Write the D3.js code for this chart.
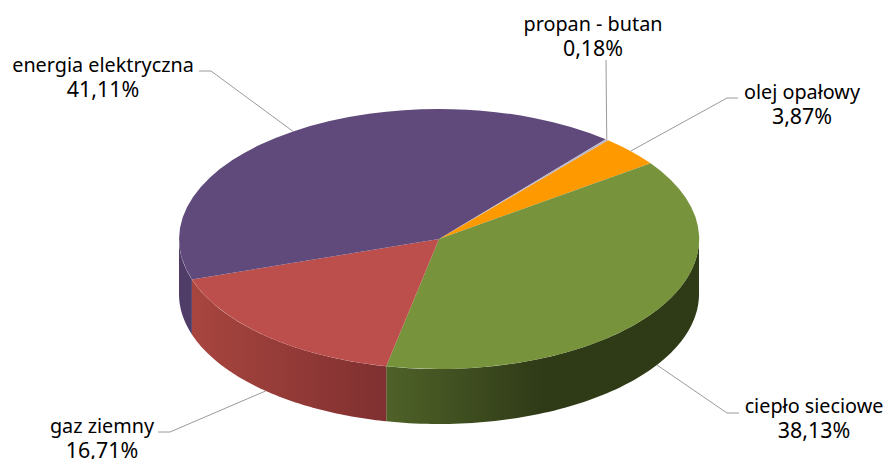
<!DOCTYPE html>
<html>
<head>
<meta charset="utf-8">
<script src="https://cdn.jsdelivr.net/npm/d3@7"></script>
<style>
  html, body { margin: 0; padding: 0; background: #fff; }
  svg { display: block; }
  text { font-family: "Noto Sans", sans-serif; font-size: 19.8px; fill: #000; }
  .share { font-size: 21.4px; }
</style>
</head>
<body>
<script>
//////////////// Data ////////////////////
var categories = ["olej opałowy", "ciepło sieciowe", "gaz ziemny", "energia elektryczna", "propan - butan"];
var shares = [3.87, 38.13, 16.71, 41.11, 0.18];
var shareLabels = ["3,87%", "38,13%", "16,71%", "41,11%", "0,18%"];

//////////////// Styles ////////////////////
var topColors = ["#ff9900", "#77933c", "#bc4e4b", "#604a7b", "#b9b4c6"];
var sideStops = [
  ["#cc7a00", "#b36b00"],
  ["#4f6228", "#2f3a17"],
  ["#a8453f", "#7f3030"],
  ["#4f3d68", "#4f3d68"],
  ["#8f8a9c", "#8f8a9c"]
];
// label centre + first baseline, then elbow and end of the leader line
var labelLayout = [
  {x: 802, y: 99, ex: 727, ey: 98, tx: 738, ty: 98},
  {x: 814, y: 413, ex: 727, ey: 413, tx: 739, ty: 413},
  {x: 102, y: 433, ex: 170, ey: 432, tx: 158, ty: 432},
  {x: 103, y: 72, ex: 211, ey: 71, tx: 199, ty: 71},
  {x: 593, y: 31, ex: 606, ey: 60, tx: 606, ty: 60}
];

//////////////// SVG ////////////////////
var width = 887, height = 459, depth = 55;
var svg = d3.select("body").append("svg")
  .attr("width", width)
  .attr("height", height);

//////////////// Scales ///////////////
var x = d3.scaleLinear().domain([-1, 1]).range([179, 699]);
var y = d3.scaleLinear().domain([-1, 1]).range([369, 109]);

var pie = d3.pie().sort(null).value(function(d) { return d; })
  .startAngle(0.707).endAngle(0.707 + 2 * Math.PI);
var slices = pie(shares);

function px(a) { return x(Math.sin(a)); }
function py(a) { return y(Math.cos(a)); }

//////////////// Gradients ///////////////
var defs = svg.append("defs");
slices.forEach(function(d, i) {
  var lo = Math.max(d.startAngle, Math.PI / 2), hi = Math.min(d.endAngle, 3 * Math.PI / 2);
  if (hi <= lo) return;
  var x0 = Math.min(px(lo), px(hi)), x1 = Math.max(px(lo), px(hi));
  if (i === 1) x1 = x0 + (x1 - x0) * 0.5;
  defs.append("linearGradient")
    .attr("id", "side" + i)
    .attr("gradientUnits", "userSpaceOnUse")
    .attr("x1", x0).attr("x2", x1)
    .attr("y1", 0).attr("y2", 0)
    .selectAll("stop")
    .data(sideStops[i])
    .enter().append("stop")
    .attr("offset", function(c, k) { return k; })
    .attr("stop-color", function(c) { return c; });
});

//////////////// Side wall ///////////////
var wall = d3.line().x(function(p) { return p[0]; }).y(function(p) { return p[1]; });

slices.forEach(function(d, i) {
  var lo = Math.max(d.startAngle, Math.PI / 2), hi = Math.min(d.endAngle, 3 * Math.PI / 2);
  if (hi <= lo) return;
  var n = 80, top = [], bottom = [];
  d3.range(n + 1).forEach(function(k) {
    var a = lo + (hi - lo) * k / n;
    top.push([px(a), py(a)]);
    bottom.unshift([px(a), py(a) + depth]);
  });
  svg.append("path")
    .attr("d", wall(top.concat(bottom)) + "Z")
    .attr("fill", "url(#side" + i + ")");
});

//////////////// Top face ///////////////
var arc = d3.arc().innerRadius(0).outerRadius(1);
var topFace = svg.append("g")
  .attr("transform", "translate(" + x(0) + "," + y(0) + ") scale(" + (x(1) - x(0)) + "," + (y(-1) - y(0)) + ")");
topFace.selectAll("path")
  .data(slices)
  .enter().append("path")
  .attr("d", arc)
  .attr("fill", function(d, i) { return topColors[i]; });

//////////////// Leaders + labels ///////////////
slices.forEach(function(d, i) {
  var mid = (d.startAngle + d.endAngle) / 2;
  var wrapped = Math.cos(mid) < 0 ? depth : 0;
  var l = labelLayout[i];
  svg.append("path")
    .attr("d", wall([[px(mid), py(mid) + wrapped], [l.ex, l.ey], [l.tx, l.ty]]))
    .attr("fill", "none")
    .attr("stroke", "#9a9a9a")
    .attr("stroke-width", 1);
  svg.append("text").attr("text-anchor", "middle")
    .attr("x", l.x).attr("y", l.y).text(categories[i]);
  svg.append("text").attr("class", "share").attr("text-anchor", "middle")
    .attr("x", l.x).attr("y", l.y + 24.5).text(shareLabels[i]);
});
</script>
</body>
</html>
